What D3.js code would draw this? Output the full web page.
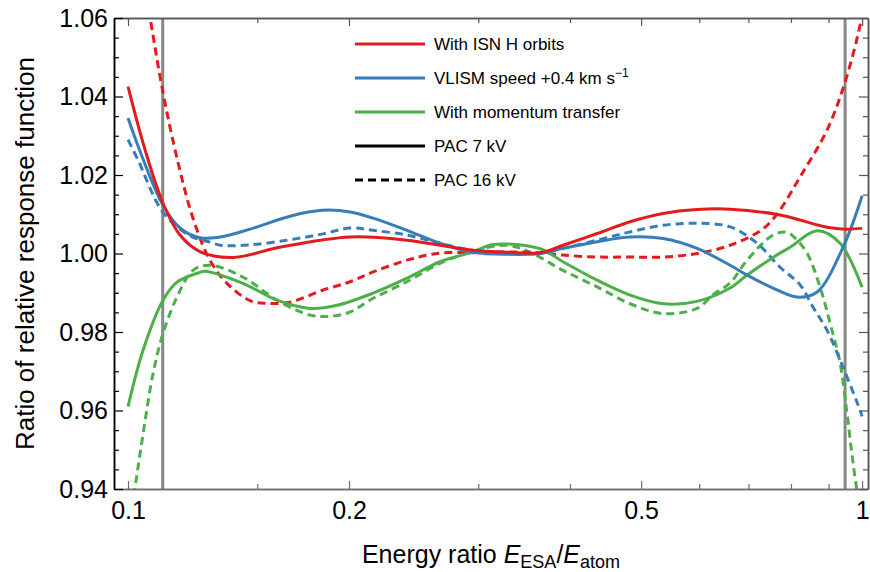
<!DOCTYPE html>
<html>
<head>
<meta charset="utf-8">
<script src="https://d3js.org/d3.v7.min.js"></script>
<style>
  body { margin: 0; background: #fff; }
  svg text { font-family: "Liberation Sans", Arial, sans-serif; fill: #000; }
</style>
</head>
<body>
<div id="chart"></div>
<script>
// ---- data (x = energy ratio, y = ratio of response functions) ----
var redSolidX = [0.1, 0.1055, 0.1116, 0.1177, 0.1253, 0.139, 0.161, 0.2007, 0.2399, 0.2661, 0.2951, 0.3284, 0.3642, 0.3913, 0.4355, 0.483, 0.5357, 0.5958, 0.661, 0.7732, 0.896, 0.948, 1.0];
var redSolidY = [1.0425, 1.0264, 1.0128, 1.0047, 1.0005, 0.999, 1.0016, 1.0042, 1.0034, 1.0021, 1.0008, 1.0003, 1.0002, 1.0021, 1.0051, 1.0081, 1.0102, 1.0112, 1.0113, 1.0098, 1.0067, 1.0062, 1.0064];

var redDashX = [0.1, 0.1072, 0.1116, 0.1166, 0.1226, 0.1293, 0.1364, 0.1466, 0.1546, 0.1662, 0.1844, 0.2007, 0.2157, 0.2399, 0.2661, 0.2951, 0.3284, 0.3642, 0.3913, 0.4355, 0.483, 0.5357, 0.5958, 0.661, 0.7292, 0.7641, 0.8232, 0.896, 0.948, 0.9938, 1.0];
var redDashY = [1.095, 1.06, 1.041, 1.0243, 1.009, 0.9983, 0.9924, 0.988, 0.9873, 0.9876, 0.9907, 0.9928, 0.9953, 0.9983, 1.0001, 1.0002, 1.0004, 1.0002, 0.9996, 0.9991, 0.9991, 0.9991, 1.0, 1.0021, 1.006, 1.0098, 1.0195, 1.0315, 1.0437, 1.0583, 1.062];

var blueSolidX = [0.1, 0.1045, 0.1116, 0.1177, 0.1253, 0.1335, 0.1466, 0.1662, 0.1838, 0.2007, 0.2157, 0.2399, 0.2661, 0.2951, 0.3284, 0.3642, 0.3913, 0.4355, 0.483, 0.5357, 0.5958, 0.661, 0.6971, 0.7563, 0.8155, 0.8683, 0.9421, 1.0];
var blueSolidY = [1.0345, 1.0247, 1.0123, 1.0065, 1.004, 1.0042, 1.0062, 1.0095, 1.011, 1.0106, 1.009, 1.0059, 1.0026, 1.0003, 0.9998, 1.0, 1.0013, 1.003, 1.0042, 1.0038, 1.0013, 0.997, 0.9945, 0.9912, 0.9889, 0.9902, 1.0016, 1.0147];

var blueDashX = [0.1, 0.1032, 0.1116, 0.1215, 0.1293, 0.1335, 0.1466, 0.1662, 0.1844, 0.2007, 0.2157, 0.2399, 0.2661, 0.2951, 0.3284, 0.3642, 0.3913, 0.4355, 0.483, 0.5357, 0.5958, 0.661, 0.7193, 0.7732, 0.8232, 0.8574, 0.896, 0.9421, 0.9938, 1.0];
var blueDashY = [1.029, 1.0238, 1.0105, 1.0045, 1.0029, 1.0021, 1.0022, 1.0035, 1.005, 1.0065, 1.0059, 1.0047, 1.0026, 1.0008, 1.0002, 1.0001, 1.0013, 1.0034, 1.0055, 1.0072, 1.0077, 1.0068, 1.0026, 0.9965, 0.992, 0.9863, 0.9804, 0.971, 0.96, 0.9585];

var greenSolidX = [0.1, 0.1048, 0.1116, 0.1166, 0.1253, 0.1273, 0.1434, 0.1596, 0.177, 0.1926, 0.2157, 0.2399, 0.2661, 0.2951, 0.3144, 0.3642, 0.3913, 0.4355, 0.483, 0.5357, 0.5958, 0.661, 0.6971, 0.7563, 0.7978, 0.8683, 0.9333, 1.0];
var greenSolidY = [0.961, 0.9753, 0.9881, 0.9927, 0.9952, 0.9955, 0.9924, 0.9881, 0.986, 0.9868, 0.9899, 0.9937, 0.9979, 1.0004, 1.0023, 1.0012, 0.9979, 0.9932, 0.9894, 0.9872, 0.9878, 0.9912, 0.9945, 0.999, 1.0016, 1.0058, 1.0026, 0.9914];

var greenDashX = [0.1, 0.1022, 0.1045, 0.1082, 0.1116, 0.1166, 0.1226, 0.1293, 0.1434, 0.1596, 0.177, 0.1884, 0.2007, 0.2157, 0.2399, 0.2661, 0.2951, 0.3284, 0.3529, 0.3913, 0.4355, 0.483, 0.5357, 0.5958, 0.6266, 0.661, 0.6971, 0.7563, 0.7903, 0.8155, 0.8414, 0.8766, 0.9045, 0.9333, 0.9541, 0.9721, 0.9938, 1.0];
var greenDashY = [0.925, 0.94, 0.9523, 0.9695, 0.9796, 0.9889, 0.9957, 0.997, 0.994, 0.9881, 0.9843, 0.984, 0.9851, 0.9886, 0.9928, 0.9975, 1.0006, 1.0021, 1.0003, 0.9957, 0.9915, 0.9872, 0.9847, 0.986, 0.9895, 0.9925, 0.9983, 1.0047, 1.0054, 1.0034, 1.0001, 0.9914, 0.9822, 0.972, 0.959, 0.9465, 0.934, 0.93];

// PAC limits (vertical gray lines)
var pacLimits = [0.1115, 0.948];

// ticks
var xMajorTicks = [0.1, 0.2, 0.5, 1];
var xMinorTicks = [0.15, 0.3, 0.4, 0.6, 0.7, 0.8, 0.9];
var yMajorTicks = [0.94, 0.96, 0.98, 1.00, 1.02, 1.04, 1.06];
var yMinorTicks = d3.range(0.945, 1.06, 0.005).filter(function (v) {
    return Math.abs(Math.round(v * 50) - v * 50) > 0.01;
});

var legendLabels = ["With ISN H orbits", "VLISM speed +0.4 km s", "With momentum transfer", "PAC 7 kV", "PAC 16 kV"];

// ---- chart ----
var W = 870, H = 572;
var margin = { top: 18, right: 2, bottom: 83, left: 114 };
var width = W - margin.left - margin.right;
var height = H - margin.top - margin.bottom;

var RED = "#e41a1c", BLUE = "#377eb8", GREEN = "#4daf4a";
var DASH = "8,5";

var svg = d3.select("#chart")
    .append("svg")
    .attr("width", W)
    .attr("height", H);

var g = svg.append("g")
    .attr("transform", "translate(" + margin.left + "," + margin.top + ")");

var x = d3.scaleLog()
    .domain([0.0957, 1.0186])
    .range([0, width]);

var y = d3.scaleLinear()
    .domain([0.94, 1.06])
    .range([height, 0]);

g.append("defs").append("clipPath")
    .attr("id", "clip")
    .append("rect")
    .attr("width", width)
    .attr("height", height);

// vertical gray lines
g.selectAll(".pac")
    .data(pacLimits)
    .enter()
    .append("line")
    .attr("class", "pac")
    .attr("x1", function (d) { return x(d); })
    .attr("x2", function (d) { return x(d); })
    .attr("y1", 0)
    .attr("y2", height)
    .attr("stroke", "#878787")
    .attr("stroke-width", 3);

// curves
var seriesList = [
    { xs: greenDashX, ys: greenDashY, color: GREEN, dash: DASH },
    { xs: blueDashX, ys: blueDashY, color: BLUE, dash: DASH },
    { xs: redDashX, ys: redDashY, color: RED, dash: DASH },
    { xs: greenSolidX, ys: greenSolidY, color: GREEN, dash: null },
    { xs: blueSolidX, ys: blueSolidY, color: BLUE, dash: null },
    { xs: redSolidX, ys: redSolidY, color: RED, dash: null }
];

var line = d3.line()
    .x(function (d) { return x(d[0]); })
    .y(function (d) { return y(d[1]); })
    .curve(d3.curveCatmullRom.alpha(0.5));

var curves = g.append("g").attr("clip-path", "url(#clip)");
seriesList.forEach(function (s) {
    var pts = s.xs.map(function (v, i) { return [v, s.ys[i]]; });
    curves.append("path")
        .datum(pts)
        .attr("d", line)
        .attr("fill", "none")
        .attr("stroke", s.color)
        .attr("stroke-width", 3)
        .attr("stroke-dasharray", s.dash);
});

// ---- frame and ticks (inward) ----
function styleAxis(sel, color) {
    sel.select(".domain").attr("stroke", color).attr("stroke-width", 1.5);
    sel.selectAll(".tick line").attr("stroke", color).attr("stroke-width", 1.2);
    sel.selectAll("text").style("font-size", "25px").attr("fill", "#000");
}

var bottomAxis = g.append("g")
    .attr("transform", "translate(0," + height + ")")
    .call(d3.axisBottom(x).tickValues(xMajorTicks).tickSize(-8).tickSizeOuter(0).tickPadding(12)
        .tickFormat(function (d) { return d === 1 ? "1" : d3.format(".1f")(d); }));
styleAxis(bottomAxis, "#6e6e6e");
g.append("g")
    .attr("transform", "translate(0," + height + ")")
    .call(d3.axisBottom(x).tickValues(xMinorTicks).tickSize(-5).tickSizeOuter(0).tickFormat(""))
    .call(function (s) { styleAxis(s, "#6e6e6e"); });

var topAxis = g.append("g")
    .call(d3.axisTop(x).tickValues(xMajorTicks).tickSize(-8).tickSizeOuter(0).tickFormat(""));
styleAxis(topAxis, "#555");
g.append("g")
    .call(d3.axisTop(x).tickValues(xMinorTicks).tickSize(-5).tickSizeOuter(0).tickFormat(""))
    .call(function (s) { styleAxis(s, "#555"); });

var leftAxis = g.append("g")
    .call(d3.axisLeft(y).tickValues(yMajorTicks).tickSize(-9).tickSizeOuter(0).tickPadding(6)
        .tickFormat(d3.format(".2f")));
styleAxis(leftAxis, "#000");
g.append("g")
    .call(d3.axisLeft(y).tickValues(yMinorTicks).tickSize(-5).tickSizeOuter(0).tickFormat(""))
    .call(function (s) { styleAxis(s, "#000"); });

var rightAxis = g.append("g")
    .attr("transform", "translate(" + width + ",0)")
    .call(d3.axisRight(y).tickValues(yMajorTicks).tickSize(-9).tickSizeOuter(0).tickFormat(""));
styleAxis(rightAxis, "#555");
g.append("g")
    .attr("transform", "translate(" + width + ",0)")
    .call(d3.axisRight(y).tickValues(yMinorTicks).tickSize(-5).tickSizeOuter(0).tickFormat(""))
    .call(function (s) { styleAxis(s, "#555"); });

// ---- axis titles ----
var xTitle = svg.append("text")
    .attr("x", margin.left + width / 2)
    .attr("y", 563)
    .attr("text-anchor", "middle")
    .style("font-size", "25px");
xTitle.append("tspan").text("Energy ratio ");
xTitle.append("tspan").style("font-style", "italic").text("E");
xTitle.append("tspan").attr("baseline-shift", "-25%").style("font-size", "18px").text("ESA");
xTitle.append("tspan").text("/");
xTitle.append("tspan").style("font-style", "italic").text("E");
xTitle.append("tspan").attr("baseline-shift", "-25%").style("font-size", "18px").text("atom");

svg.append("text")
    .attr("transform", "translate(34," + (margin.top + height / 2) + ") rotate(-90)")
    .attr("text-anchor", "middle")
    .style("font-size", "26px")
    .text("Ratio of relative response function");

// ---- legend ----
var legendItems = [
    { label: legendLabels[0], color: RED, dash: null },
    { label: legendLabels[1], color: BLUE, dash: null, sup: "\u22121" },
    { label: legendLabels[2], color: GREEN, dash: null },
    { label: legendLabels[3], color: "#000", dash: null },
    { label: legendLabels[4], color: "#000", dash: DASH }
];

var legend = svg.append("g").attr("transform", "translate(355,44)");
legendItems.forEach(function (item, i) {
    var row = legend.append("g").attr("transform", "translate(0," + (i * 34) + ")");
    row.append("line")
        .attr("x1", 0).attr("x2", 70)
        .attr("y1", 0).attr("y2", 0)
        .attr("stroke", item.color)
        .attr("stroke-width", 3)
        .attr("stroke-dasharray", item.dash);
    var t = row.append("text")
        .attr("x", 79)
        .attr("y", 6)
        .style("font-size", "17px")
        .text(item.label);
    if (item.sup) {
        t.append("tspan")
            .attr("baseline-shift", "super")
            .style("font-size", "12px")
            .text(item.sup);
    }
});
</script>
</body>
</html>
